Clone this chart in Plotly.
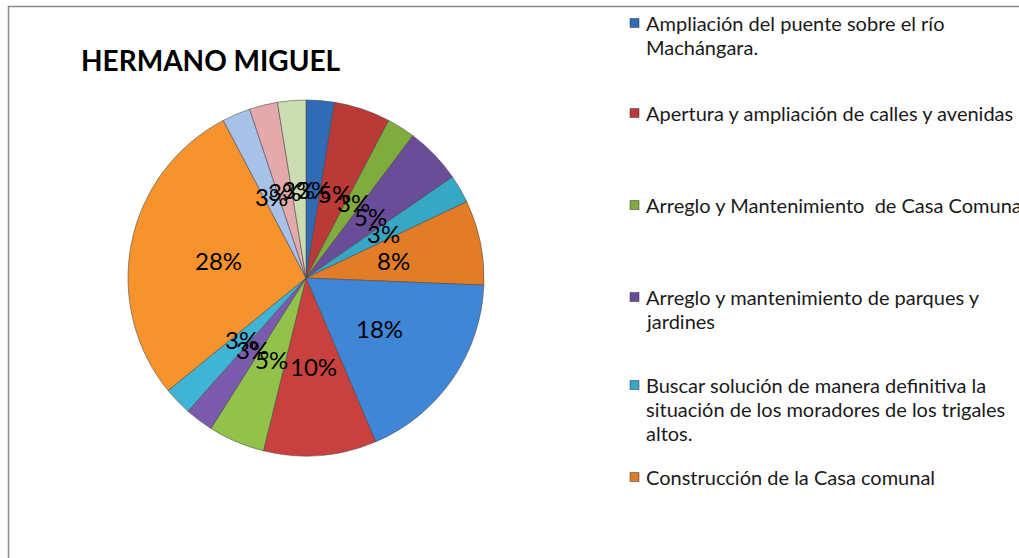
import math
import plotly.graph_objects as go

# ---------------- data ----------------
categories = [
    "Ampliación del puente sobre el río Machángara.",
    "Apertura y ampliación de calles y avenidas",
    "Arreglo y Mantenimiento  de Casa Comunal",
    "Arreglo y mantenimiento de parques y jardines",
    "Buscar solución de manera definitiva la situación de los moradores de los trigales altos.",
    "Construcción de la Casa comunal",
    "Categoría 7",
    "Categoría 8",
    "Categoría 9",
    "Categoría 10",
    "Categoría 11",
    "Categoría 12",
    "Categoría 13",
    "Categoría 14",
    "Categoría 15",
]
counts = [1, 2, 1, 2, 1, 3, 7, 4, 2, 1, 1, 11, 1, 1, 1]

legend_lines = [
    ["Ampliación del puente sobre el río", "Machángara."],
    ["Apertura y ampliación de calles y avenidas"],
    ["Arreglo y Mantenimiento\u00a0 de Casa Comunal"],
    ["Arreglo y mantenimiento de parques y", "jardines"],
    ["Buscar solución de manera definitiva la", "situación de los moradores de los trigales", "altos."],
    ["Construcción de la Casa comunal"],
]

colors = [
    "#2F6CB5", "#B93A37", "#80AC3E", "#6A4D99", "#36A8C6", "#E27C29",
    "#3F86D6", "#C9413F", "#93C24B", "#7B5BAD", "#40B4D4", "#F6932D",
    "#A8C1E8", "#E4A9AB", "#CBDDB1",
]

title = "HERMANO MIGUEL"

# ---------------- layout constants ----------------
W, H = 1019, 558
CX, CY, R = 306, 278, 178  # pie centre / radius in pixels
FONT = "Lato, Carlito, Calibri, sans-serif"

dom_x = [(CX - R) / W, (CX + R) / W]
dom_y = [(H - CY - R) / H, (H - CY + R) / H]

fig = go.Figure()
fig.add_trace(go.Pie(
    labels=categories,
    values=counts,
    sort=False,
    direction="clockwise",
    rotation=0,
    textinfo="none",
    hoverinfo="label+percent",
    marker=dict(colors=colors, line=dict(color="rgba(70,70,70,0.55)", width=1)),
    domain=dict(x=dom_x, y=dom_y),
    showlegend=False,
))

annotations = []
# percentage labels placed at half radius along each slice's bisector
total = sum(counts)
cum = 0
for v in counts:
    mid = (cum + v / 2) / total * 2 * math.pi
    cum += v
    px = CX + 0.5 * R * math.sin(mid)
    py = CY - 0.5 * R * math.cos(mid)
    annotations.append(dict(
        x=px / W, y=1 - py / H, xref="paper", yref="paper",
        text=f"{round(v / total * 100)}%", showarrow=False,
        xanchor="center", yanchor="middle",
        font=dict(family=FONT, size=24, color="#000000"),
    ))

# title
annotations.append(dict(
    x=211 / W, y=1 - 60 / H, xref="paper", yref="paper", text=f"<b>{title}</b>",
    showarrow=False, xanchor="center", yanchor="middle",
    font=dict(family=FONT, size=28, color="#000000"),
))

shapes = []
# chart frame
shapes.append(dict(type="rect", xref="paper", yref="paper",
                   x0=8.5 / W, x1=1.05, y0=-0.05, y1=1 - 6.5 / H,
                   line=dict(color="#8c8c8c", width=1.5), fillcolor="rgba(0,0,0,0)"))

# custom legend (first six entries, as visible in the chart)
legend_y = [23, 113, 205, 297, 385, 477]
LX, LS = 630, 9
for i, lines in enumerate(legend_lines):
    yc = legend_y[i]
    shapes.append(dict(type="rect", xref="paper", yref="paper",
                       x0=LX / W, x1=(LX + LS) / W,
                       y0=1 - (yc + LS / 2) / H, y1=1 - (yc - LS / 2) / H,
                       line=dict(color="rgba(40,40,40,0.6)", width=0.8),
                       fillcolor=colors[i]))
    for j, t in enumerate(lines):
        annotations.append(dict(
            x=(LX + LS + 5) / W, y=1 - (yc + 24 * j) / H, xref="paper", yref="paper",
            text=t, showarrow=False, xanchor="left", yanchor="middle",
            font=dict(family=FONT, size=20, color="#1a1a1a"),
        ))

fig.update_layout(
    width=W, height=H,
    margin=dict(l=0, r=0, t=0, b=0),
    paper_bgcolor="white", plot_bgcolor="white",
    annotations=annotations, shapes=shapes,
)

fig.write_html(
    "out.html",
    config={"displayModeBar": False},
    post_script="document.body.style.margin='0';document.body.style.overflow='hidden';",
)
